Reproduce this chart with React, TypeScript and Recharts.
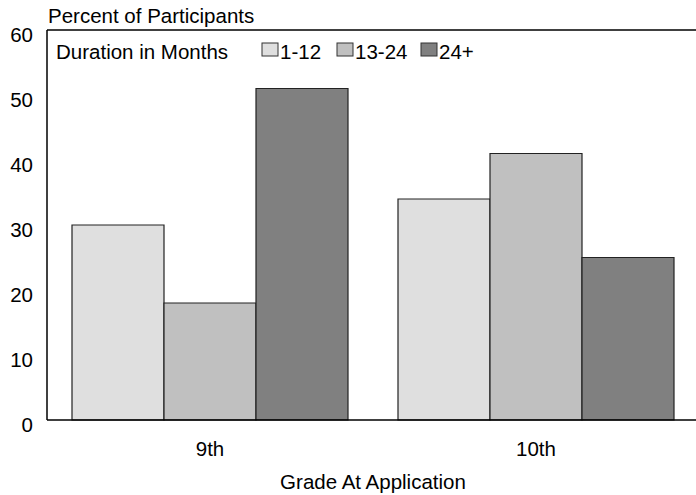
import React from 'react';
import { BarChart, Bar, XAxis, YAxis, ReferenceLine, Legend } from 'recharts';

const categories = ['9th', '10th'];
const seriesNames = ['1-12', '13-24', '24+'];
const values112 = [30, 34];
const values1324 = [18, 41];
const values24p = [51, 25];
const yTicks = [0, 10, 20, 30, 40, 50, 60];
const seriesColors = ['#dfdfdf', '#c0c0c0', '#808080'];

const data = categories.map((c, i) => ({
  grade: c,
  s1: values112[i],
  s2: values1324[i],
  s3: values24p[i],
}));
const seriesKeys = ['s1', 's2', 's3'];

const FONT = '"Liberation Sans", Arial, Helvetica, sans-serif';
const FS = 20.5;

const PlainText = ({ x, y, anchor = 'start', children }: any) => (
  <text x={x} y={y} textAnchor={anchor} fontFamily={FONT} fontSize={FS} fill="#000">
    {children}
  </text>
);

const YTick = ({ x, y, payload }: any) => (
  <PlainText x={x} y={y + 12} anchor="end">
    {payload.value}
  </PlainText>
);

const XTick = ({ x, y, payload }: any) => (
  <PlainText x={x} y={y + 36} anchor="middle">
    {payload.value}
  </PlainText>
);

const legendBoxX = [262, 337, 421];

const LegendContent = () => (
  <svg width={700} height={70} style={{ display: 'block' }}>
    <PlainText x={56} y={59}>Duration in Months</PlainText>
    {seriesNames.map((n, i) => (
      <g key={n}>
        <rect x={legendBoxX[i]} y={43} width={16} height={13} fill={seriesColors[i]} stroke="#333" strokeWidth={1} />
        <PlainText x={legendBoxX[i] + 18} y={59}>{n}</PlainText>
      </g>
    ))}
  </svg>
);

export default function App() {
  return (
    <div style={{ position: 'absolute', left: 0, top: 0, width: 696, height: 495, overflow: 'hidden', background: '#fff' }}>
      <BarChart
        width={720}
        height={495}
        data={data}
        margin={{ top: 30, right: 21, left: 0, bottom: 0 }}
        barCategoryGap={25}
        barGap={0}
      >
        <XAxis
          dataKey="grade"
          height={75}
          tickLine={false}
          tickSize={0}
          tickMargin={0}
          axisLine={{ stroke: '#000', strokeWidth: 1.5 }}
          tick={<XTick />}
          interval={0}
          label={{
            content: () => (
              <PlainText x={373} y={489} anchor="middle">Grade At Application</PlainText>
            ),
          }}
        />
        <YAxis
          width={47}
          domain={[0, 60]}
          ticks={yTicks}
          tickLine={false}
          tickSize={0}
          tickMargin={14}
          axisLine={{ stroke: '#000', strokeWidth: 1.5 }}
          tick={<YTick />}
          interval={0}
          label={{
            content: () => <PlainText x={48} y={23}>Percent of Participants</PlainText>,
          }}
        />
        <ReferenceLine y={60} stroke="#000" strokeWidth={1.5} />
        <Legend
          layout="vertical"
          align="center"
          verticalAlign="middle"
          content={<LegendContent />}
          wrapperStyle={{ position: 'absolute', left: 0, top: 0, width: 700, height: 70, margin: 0 }}
        />
        {seriesKeys.map((k, i) => (
          <Bar
            key={k}
            dataKey={k}
            name={seriesNames[i]}
            fill={seriesColors[i]}
            stroke="#222"
            strokeWidth={1.2}
            isAnimationActive={false}
          />
        ))}
      </BarChart>
    </div>
  );
}
